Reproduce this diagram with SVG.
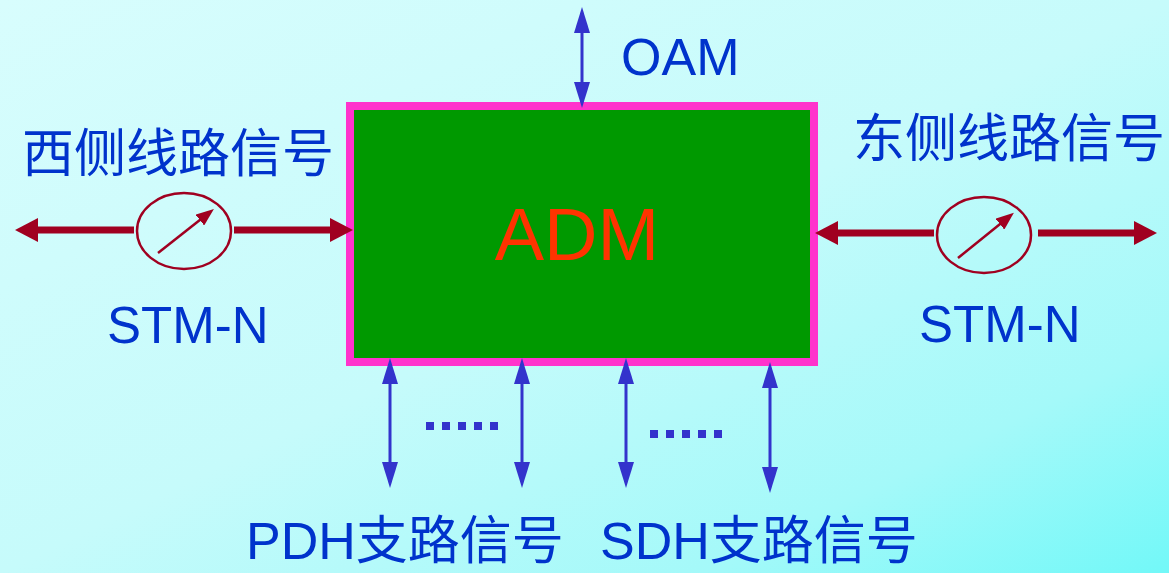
<svg xmlns="http://www.w3.org/2000/svg" width="1169" height="573" viewBox="0 0 1169 573">
<style>
.lat{font-family:"Liberation Sans",Arial,"Noto Sans CJK SC",sans-serif;fill:#0033CC}
.cjk{font-family:"Noto Sans CJK SC",sans-serif;fill:#0033CC;font-size:52px}
.blue{stroke:#3333CC;stroke-width:3;fill:none;marker-start:url(#bh);marker-end:url(#bh)}
.red{stroke:#A00020;stroke-width:7;fill:none;marker-end:url(#rh)}
.dial{stroke:#A00020;stroke-width:2.5;fill:none}
.needle{stroke:#A00020;stroke-width:2.5;fill:none;marker-end:url(#nh)}
.dot{fill:#3333CC}
</style>
<defs>
<linearGradient id="bg" x1="0" y1="0" x2="1" y2="1">
<stop offset="0" stop-color="#D8FDFD"/>
<stop offset="0.5" stop-color="#C6FBFB"/>
<stop offset="0.8" stop-color="#A4F9F9"/>
<stop offset="1" stop-color="#72F8F8"/>
</linearGradient>
<marker id="bh" markerUnits="userSpaceOnUse" markerWidth="26" markerHeight="16" refX="20" refY="8" orient="auto-start-reverse" viewBox="0 0 26 16">
<path d="M0,0 L26,8 L0,16 z" fill="#3333CC"/>
</marker>
<marker id="rh" markerUnits="userSpaceOnUse" markerWidth="23" markerHeight="24" refX="15" refY="12" orient="auto" viewBox="0 0 23 24">
<path d="M0,0 L23,12 L0,24 z" fill="#A00020"/>
</marker>
<marker id="nh" markerUnits="userSpaceOnUse" markerWidth="18" markerHeight="14" refX="13" refY="7" orient="auto" viewBox="0 0 18 14">
<path d="M0,0 L18,7 L0,14 z" fill="#A00020"/>
</marker>
</defs>
<rect width="1169" height="573" fill="url(#bg)"/>

<g id="adm">
<rect x="350" y="106" width="464" height="256" fill="#009900" stroke="#FF33CC" stroke-width="8"/>
<text x="577" y="260" text-anchor="middle" font-family="Liberation Sans, Arial, sans-serif" font-size="74" fill="#FF3300">ADM</text>
</g>

<g id="connectors">
<line class="blue" x1="582" y1="13" x2="582" y2="102"/>
<line class="blue" x1="390" y1="364" x2="390" y2="482"/>
<line class="blue" x1="522" y1="364" x2="522" y2="482"/>
<line class="blue" x1="626" y1="364" x2="626" y2="482"/>
<line class="blue" x1="770" y1="368" x2="770" y2="487"/>
<line class="red" x1="134" y1="230" x2="23" y2="230"/>
<line class="red" x1="234" y1="230" x2="345" y2="230"/>
<line class="red" x1="934" y1="233" x2="823" y2="233"/>
<line class="red" x1="1038" y1="233" x2="1149" y2="233"/>
</g>

<g id="west-meter">
<ellipse class="dial" cx="184" cy="231" rx="47" ry="38"/>
<line class="needle" x1="158" y1="253" x2="210" y2="212"/>
</g>
<g id="east-meter">
<ellipse class="dial" cx="984" cy="235" rx="47" ry="38"/>
<line class="needle" x1="958" y1="258" x2="1010" y2="216"/>
</g>

<g id="dots-pdh">
<rect class="dot" x="426" y="422" width="8" height="8"/>
<rect class="dot" x="442" y="422" width="8" height="8"/>
<rect class="dot" x="458" y="422" width="8" height="8"/>
<rect class="dot" x="474" y="422" width="8" height="8"/>
<rect class="dot" x="490" y="422" width="8" height="8"/>
</g>
<g id="dots-sdh">
<rect class="dot" x="650" y="430" width="8" height="8"/>
<rect class="dot" x="666" y="430" width="8" height="8"/>
<rect class="dot" x="682" y="430" width="8" height="8"/>
<rect class="dot" x="698" y="430" width="8" height="8"/>
<rect class="dot" x="714" y="430" width="8" height="8"/>
</g>

<g id="labels">
<text class="lat" x="621" y="75" font-size="52">OAM</text>
<text class="cjk" x="22" y="172" font-size="53">西侧线路信号</text>
<text class="cjk" x="853" y="157" font-size="53">东侧线路信号</text>
<text class="lat" x="107" y="343" font-size="51">STM-N</text>
<text class="lat" x="919" y="342" font-size="51">STM-N</text>
<text class="lat" x="246" y="559" font-size="52">PDH<tspan class="cjk">支路信号</tspan></text>
<text class="lat" x="600" y="559" font-size="52">SDH<tspan class="cjk">支路信号</tspan></text>
</g>
</svg>
